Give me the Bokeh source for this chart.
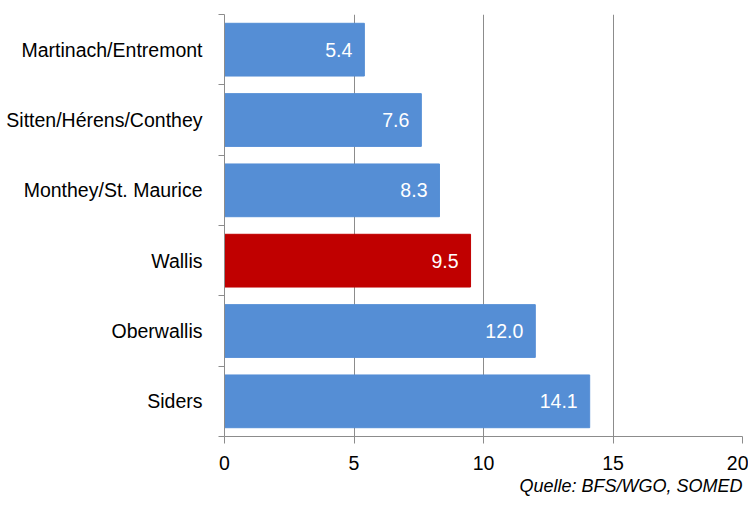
from bokeh.plotting import figure
from bokeh.models import Range1d, FixedTicker, ColumnDataSource, Title
from bokeh.core.properties import value
from bokeh.embed import file_html
from bokeh.resources import INLINE

# Data (top to bottom)
regions = ["Martinach/Entremont", "Sitten/Hérens/Conthey", "Monthey/St. Maurice",
           "Wallis", "Oberwallis", "Siders"]
values = [5.4, 7.6, 8.3, 9.5, 12.0, 14.1]
highlight = "Wallis"
x_ticks = [0, 5, 10, 15, 20]
source_note = "Quelle: BFS/WGO, SOMED"

BLUE = "#558ED5"
RED = "#C00000"
GRID = "#8C8C8C"
FONT = "Liberation Sans"

n = len(regions)
centers = [i + 0.5 for i in range(n)]
colors = [RED if r == highlight else BLUE for r in regions]
labels = ["%.1f" % v for v in values]

src = ColumnDataSource(dict(y=centers, v=values, color=colors, lab=labels, reg=regions))

p = figure(width=748, height=500, output_backend="svg", toolbar_location=None,
           x_range=Range1d(0, 20), y_range=Range1d(n, 0),
           min_border_left=224, min_border_right=6, min_border_top=14, min_border_bottom=64)
p.outline_line_color = None
p.background_fill_color = "white"
p.border_fill_color = "white"

p.hbar(y="y", left=0, right="v", height=0.75, fill_color="color", line_color="color", source=src)
p.text(x="v", y="y", text="lab", x_offset=-12, text_align="right", text_baseline="middle",
       text_color="white", text_font=value(FONT), text_font_size="19.5px", source=src)

# x axis
xa = p.xaxis[0]
xa.ticker = FixedTicker(ticks=x_ticks)
xa.axis_line_color = GRID
xa.major_tick_line_color = GRID
xa.major_tick_in = 0
xa.major_tick_out = 7
xa.minor_tick_line_color = None
xa.major_label_text_font = FONT
xa.major_label_text_font_size = "19.5px"
xa.major_label_text_color = "black"
xa.major_label_standoff = 12

# y axis
ya = p.yaxis[0]
ya.ticker = FixedTicker(ticks=centers, minor_ticks=list(range(n + 1)))
ya.major_label_overrides = {c: r for c, r in zip(centers, regions)}
ya.axis_line_color = GRID
ya.major_tick_line_color = None
ya.major_tick_in = 0
ya.major_tick_out = 0
ya.minor_tick_line_color = GRID
ya.minor_tick_in = 0
ya.minor_tick_out = 6
ya.major_label_standoff = 16
ya.major_label_text_font = FONT
ya.major_label_text_font_size = "19.5px"
ya.major_label_text_color = "black"

p.xgrid.ticker = FixedTicker(ticks=x_ticks[1:])
p.xgrid.grid_line_color = GRID
p.ygrid.grid_line_color = None

p.add_layout(Title(text=source_note, align="right", offset=0, standoff=3,
                   text_font=FONT, text_font_size="18px", text_font_style="italic",
                   text_color="black"), "below")

open("out.html", "w").write(file_html(p, INLINE))
